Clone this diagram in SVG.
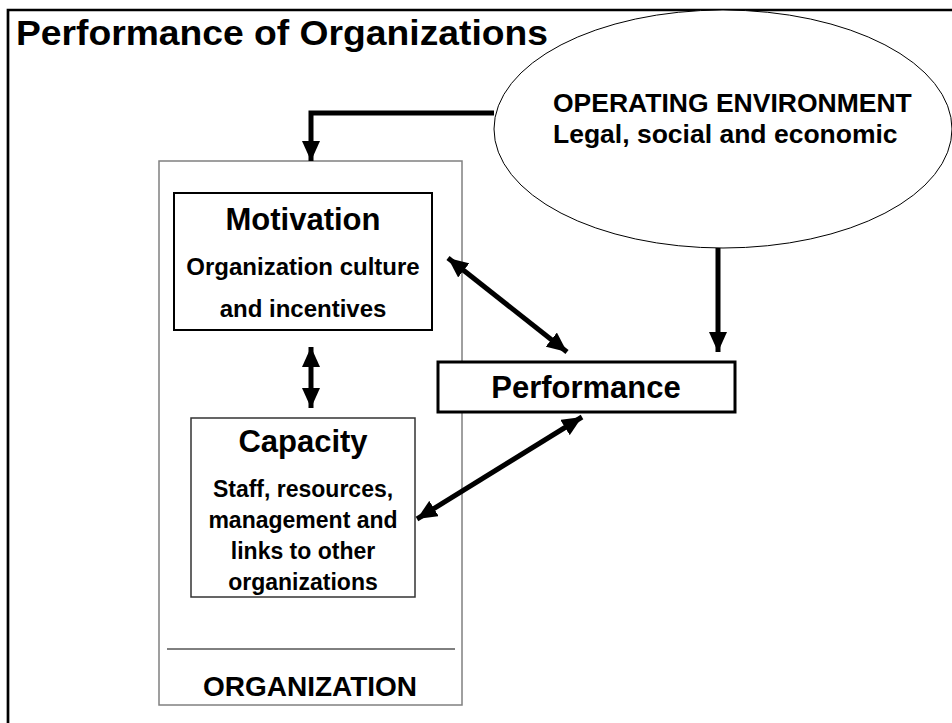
<svg xmlns="http://www.w3.org/2000/svg" width="952" height="723" viewBox="0 0 952 723">
<defs>
<style>
text{font-family:"Liberation Sans",Arial,sans-serif;font-weight:bold;fill:#000}
.c{text-anchor:middle}
.conn{fill:none;stroke:#000;stroke-width:5}
</style>
<marker id="ah" markerUnits="userSpaceOnUse" markerWidth="20" markerHeight="18" viewBox="0 0 20 18" refX="20" refY="9" orient="auto-start-reverse">
<path d="M0,0 L20,9 L0,18 Z" fill="#000"/>
</marker>
</defs>
<rect x="0" y="0" width="952" height="723" fill="#fff"/>
<path id="frame" d="M8,723 V10 H952" fill="none" stroke="#000" stroke-width="2.7"/>
<text id="title" x="16" y="45" font-size="35" textLength="532" lengthAdjust="spacingAndGlyphs">Performance of Organizations</text>
<g id="environment">
<ellipse cx="723" cy="129" rx="229" ry="119" fill="#fff" stroke="#000" stroke-width="1"/>
<text x="553" y="112" font-size="26.5">OPERATING ENVIRONMENT</text>
<text x="553" y="143" font-size="26.5">Legal, social and economic</text>
</g>
<g id="organization">
<rect x="159" y="161" width="303" height="544" fill="none" stroke="#808080" stroke-width="1.5"/>
<line x1="167" y1="649" x2="455" y2="649" stroke="#000" stroke-width="1"/>
<text class="c" x="310" y="696" font-size="28">ORGANIZATION</text>
</g>
<g id="motivation">
<rect x="174" y="193" width="258" height="137" fill="#fff" stroke="#000" stroke-width="2"/>
<text class="c" x="303" y="230" font-size="31">Motivation</text>
<text class="c" x="303" y="275" font-size="24">Organization culture</text>
<text class="c" x="303" y="317" font-size="24">and incentives</text>
</g>
<g id="capacity">
<rect x="191" y="418" width="224" height="179" fill="#fff" stroke="#333" stroke-width="1.5"/>
<text class="c" x="303" y="452" font-size="31">Capacity</text>
<text class="c" x="303" y="497" font-size="23">Staff, resources,</text>
<text class="c" x="303" y="528" font-size="23">management and</text>
<text class="c" x="303" y="559" font-size="23">links to other</text>
<text class="c" x="303" y="590" font-size="23">organizations</text>
</g>
<g id="performance">
<rect x="438" y="362" width="297" height="50" fill="#fff" stroke="#000" stroke-width="3"/>
<text class="c" x="586" y="398" font-size="31">Performance</text>
</g>
<g id="connectors">
<path class="conn" d="M494,113 H311 V161" marker-end="url(#ah)"/>
<path class="conn" d="M718,248 V352" marker-end="url(#ah)"/>
<path class="conn" stroke-width="4" d="M448,258 L567,352" marker-start="url(#ah)" marker-end="url(#ah)"/>
<path class="conn" stroke-width="4" d="M417,519 L582,417" marker-start="url(#ah)" marker-end="url(#ah)"/>
<path class="conn" d="M311,347 V408" marker-start="url(#ah)" marker-end="url(#ah)"/>
</g>
</svg>
